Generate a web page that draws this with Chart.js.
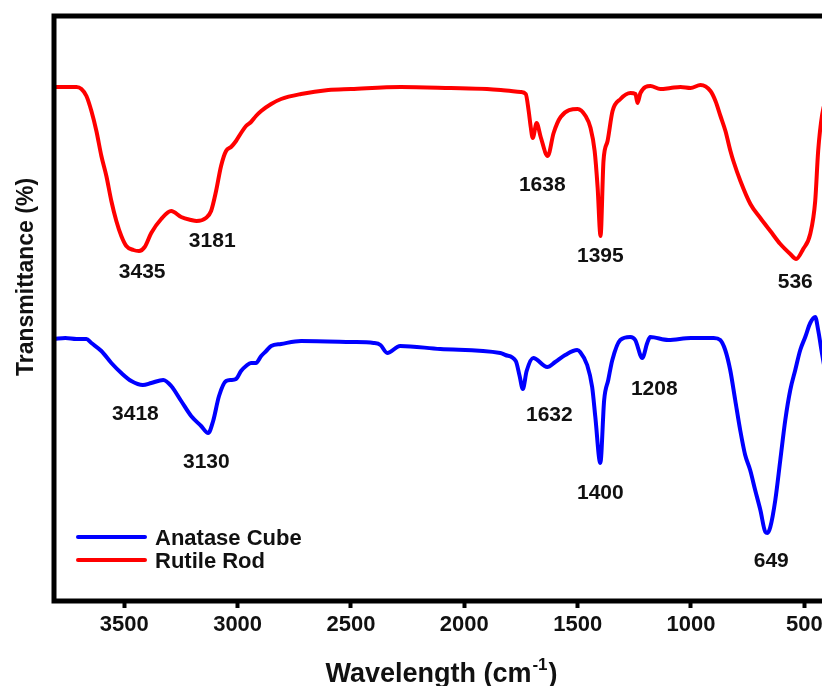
<!DOCTYPE html>
<html>
<head>
<meta charset="utf-8">
<script src="https://cdn.jsdelivr.net/npm/chart.js@4.4.1/dist/chart.umd.min.js"></script>
<style>
html,body{margin:0;padding:0;background:#fff;overflow:hidden;width:822px;height:686px;}
canvas{display:block;}
</style>
</head>
<body>
<canvas id="c" width="860" height="686" style="width:860px;height:686px"></canvas>
<script>
// ---- data (wavenumber in cm-1, transmittance in arbitrary offset units) ----
const seriesNames = ["Anatase Cube", "Rutile Rod"];
const seriesColors = ["#0000ff", "#ff0000"];

const rutileWavenumber = [3808,3760,3711,3689,3667,3645,3623,3601,3579,3557,3535,3513,3491,3460,3435,3410,3381,3337,3293,3249,3205,3181,3140,3117,3095,3073,3051,3029,3007,2985,2963,2941,2919,2896,2852,2808,2720,2600,2500,2280,2060,1900,1839,1751,1729,1716,1707,1698,1681,1663,1632,1606,1575,1500,1465,1443,1425,1412,1399,1386,1368,1346,1311,1267,1245,1236,1223,1179,1135,1090,1046,1002,958,914,892,870,848,826,813,782,738,694,650,606,562,536,505,474,452,439,421,400];
const rutileTransmittance = [102.8,102.8,102.8,102.4,101,98,94,89,85,80,76,73,71,70.2,70,70.8,73.6,76.4,78,76.8,76.2,76,76.6,78,82,87,90,90.8,92,93.6,95,95.8,97,98,99.4,100.4,101.4,102.2,102.4,102.8,102.6,102.4,102.2,101.8,101.4,98,94.8,92.6,95.6,92.8,89,93.6,96.8,98.4,97,94.6,90,82.8,73,88,92,98,100.4,101.6,101.4,99.6,101.6,103,102.4,102.6,102.8,102.6,103.2,102,100,97,94,90,88,84,79.4,76.6,74,71.4,69.4,68.4,70.4,73.4,80,90,97.4,101];

const anataseWavenumber = [3808,3760,3711,3667,3645,3601,3557,3513,3469,3418,3381,3328,3293,3249,3205,3161,3130,3108,3082,3051,3029,3007,2985,2963,2941,2919,2896,2874,2852,2808,2720,2500,2400,2370,2340,2283,2106,1841,1819,1773,1756,1742,1725,1696,1634,1599,1555,1502,1489,1458,1436,1422,1400,1383,1365,1347,1312,1268,1246,1215,1193,1180,1100,1000,900,871,849,827,805,783,761,739,717,694,672,663,650,628,606,584,562,540,518,496,474,452,439,421,400];
const anataseTransmittance = [52.4,52.6,52.4,52.4,51.6,50,47.6,45.6,44,43.2,43.6,44.2,43,40,37,35,33.6,36,41,44,44.2,44.4,46,47,47.6,47.6,49,50,51,51.4,52,51.8,51.6,51.2,49.6,51,50.4,49.6,49.2,48,45,42.4,46,48.6,46.8,47.8,49.2,50.2,49.8,47.2,42.8,36.8,27.6,40.2,44.2,48.2,52.2,52.8,52.2,48.6,51.6,52.8,52.2,52.6,52.6,52.2,50.2,46.2,40.2,34.2,29.2,26.2,22.2,18.2,13.8,13.6,14.8,20.2,28.2,36.2,42.2,46.2,50.2,52.8,55.6,56.8,54.2,49.2,44];

const xTickValues = [3500,3000,2500,2000,1500,1000,500];

// peak annotations: text, position (wavenumber, transmittance)
const peakTexts = ["3435","3181","1638","1395","536","3418","3130","1632","1400","1208","649"];
const peakLabelX = [3421,3112,1656,1400,540,3451,3138,1625,1400,1162,646];
const peakLabelY = [66.2,72.4,83.6,69.4,64.2,37.8,28.2,37.6,22,42.8,8.4];

const xTitleMain = "Wavelength (cm";
const xTitleSup = "-1";
const xTitleEnd = ")";
const yTitle = "Transmittance (%)";

// ---- build ----
const FONT = "'Liberation Sans', Arial, sans-serif";
const toPts = (xs, ys) => xs.map((x, i) => ({x: x, y: ys[i]}));

const framePlugin = {
  id: 'frame',
  afterDraw(chart) {
    const {ctx, chartArea: a} = chart;
    ctx.save();
    ctx.strokeStyle = '#000';
    ctx.lineWidth = 5;
    ctx.strokeRect(a.left, a.top, a.right - a.left, a.bottom - a.top);
    ctx.restore();
  }
};

const annotPlugin = {
  id: 'annot',
  afterDatasetsDraw(chart) {
    const {ctx, scales: {x, y}, chartArea: a} = chart;
    ctx.save();
    ctx.fillStyle = '#111';
    ctx.font = "bold 21px " + FONT;
    ctx.textAlign = 'center';
    ctx.textBaseline = 'alphabetic';
    peakTexts.forEach((t, i) => {
      ctx.fillText(t, x.getPixelForValue(peakLabelX[i]), y.getPixelForValue(peakLabelY[i]) + 7.5);
    });
    // legend
    const lx0 = a.left + 24, lx1 = a.left + 91, tx = a.left + 101;
    const rows = [a.bottom - 64, a.bottom - 41];
    [0, 1].forEach((di, r) => {
      const ds = chart.data.datasets[di];
      ctx.strokeStyle = ds.borderColor;
      ctx.lineWidth = 4;
      ctx.lineCap = 'round';
      ctx.beginPath();
      ctx.moveTo(lx0, rows[r]);
      ctx.lineTo(lx1, rows[r]);
      ctx.stroke();
      ctx.fillStyle = '#111';
      ctx.font = "bold 22px " + FONT;
      ctx.textAlign = 'left';
      ctx.fillText(ds.label, tx, rows[r] + 8);
    });
    ctx.restore();
  },
  afterDraw(chart) {
    const {ctx, chartArea: a} = chart;
    ctx.save();
    ctx.fillStyle = '#111';
    const f1 = "bold 27px " + FONT, f2 = "bold 17px " + FONT;
    ctx.font = f1; const w1 = ctx.measureText(xTitleMain).width; const w3 = ctx.measureText(xTitleEnd).width;
    ctx.font = f2; const w2 = ctx.measureText(xTitleSup).width;
    let sx = (a.left + a.right) / 2 - (w1 + w2 + w3) / 2;
    const base = a.bottom + 81;
    ctx.textAlign = 'left'; ctx.textBaseline = 'alphabetic';
    ctx.font = f1; ctx.fillText(xTitleMain, sx, base);
    ctx.font = f2; ctx.fillText(xTitleSup, sx + w1 + 1, base - 12);
    ctx.font = f1; ctx.fillText(xTitleEnd, sx + w1 + w2 + 2, base);
    ctx.translate(33, 277);
    ctx.rotate(-Math.PI / 2);
    ctx.font = "bold 23px " + FONT;
    ctx.textAlign = 'center';
    ctx.fillText(yTitle, 0, 0);
    ctx.restore();
  }
};

new Chart(document.getElementById('c'), {
  type: 'line',
  data: {
    datasets: [
      {label: seriesNames[0], data: toPts(anataseWavenumber, anataseTransmittance), borderColor: seriesColors[0], backgroundColor: seriesColors[0]},
      {label: seriesNames[1], data: toPts(rutileWavenumber, rutileTransmittance), borderColor: seriesColors[1], backgroundColor: seriesColors[1]}
    ]
  },
  options: {
    responsive: false,
    animation: false,
    devicePixelRatio: 1,
    layout: {padding: {left: 54, top: 16, right: 33, bottom: 0}},
    elements: {
      line: {borderWidth: 4, cubicInterpolationMode: 'monotone', borderJoinStyle: 'round', borderCapStyle: 'round'},
      point: {radius: 0}
    },
    plugins: {legend: {display: false}, tooltip: {enabled: false}},
    scales: {
      x: {
        type: 'linear',
        reverse: true,
        min: 400,
        max: 3810,
        afterBuildTicks(scale) { scale.ticks = xTickValues.map(v => ({value: v})); },
        afterFit(scale) { scale.height = 85; },
        border: {display: false},
        grid: {drawOnChartArea: false, drawTicks: true, tickLength: 7, tickWidth: 4, tickColor: '#000'},
        ticks: {color: '#111', font: {family: FONT, size: 22, weight: 'bold'}, padding: 4, maxRotation: 0, autoSkip: false,
                callback: (v) => String(v)}
      },
      y: {min: 0, max: 117, display: false}
    }
  },
  plugins: [framePlugin, annotPlugin]
});
</script>
</body>
</html>
